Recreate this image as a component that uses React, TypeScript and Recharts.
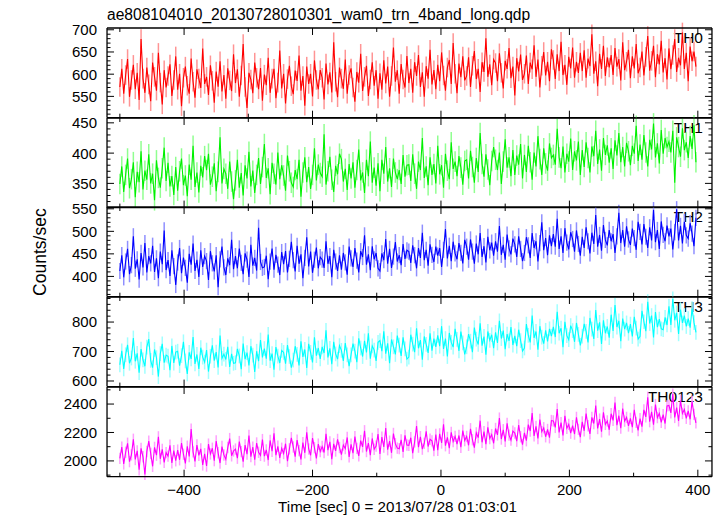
import React from 'react';
import { LineChart, Line, XAxis, YAxis, ErrorBar } from 'recharts';

// ---- light-curve bins (3 s bins starting at t = -500 s) ----
const TIME_START = -500;
const TIME_BIN = 3;

const TH0 = [
  571, 612, 556, 598, 634, 549, 587, 621, 566, 603, 542, 679, 590, 558, 615,
  577, 539, 626, 594, 563, 648, 581, 532, 609, 570, 596, 622, 551, 587, 640,
  565, 601, 528, 592, 617, 574, 556, 635, 583, 547, 611, 590, 569, 658, 578,
  594, 553, 620, 585, 536, 606, 572, 629, 561, 598, 545, 613, 586, 562, 645,
  580, 611, 549, 597, 668, 571, 524, 603, 588, 557, 626, 592, 566, 614, 540,
  599, 575, 637, 558, 590, 612, 546, 581, 653, 568, 601, 534, 589, 619, 573,
  555, 608, 585, 642, 563, 596, 529, 617, 578, 601, 550, 631, 587, 566, 609,
  592, 543, 624, 577, 604, 559, 672, 583, 548, 615, 590, 567, 633, 556, 598,
  613, 570, 538, 605, 581, 646, 562, 594, 619, 551, 588, 627, 574, 609, 545,
  602, 565, 631, 579, 617, 549, 596, 660, 583, 609, 556, 623, 588, 570, 641,
  580, 612, 558, 627, 596, 643, 571, 604, 549, 618, 590, 655, 577, 609, 566,
  621, 584, 649, 597, 563, 615, 632, 578, 670, 601, 557, 624, 593, 640, 586,
  596, 638, 571, 619, 652, 589, 612, 560, 627, 605, 681, 594, 622, 575, 633,
  625, 584, 647, 603, 568, 630, 612, 659, 591, 617, 552, 636, 606, 644, 587,
  601, 642, 578, 626, 611, 665, 594, 633, 570, 619, 650, 597, 628, 584, 656,
  632, 589, 645, 607, 673, 598, 621, 576, 639, 613, 660, 592, 628, 603, 648,
  607, 654, 592, 635, 618, 690, 601, 629, 573, 646, 612, 664, 596, 638, 615,
  643, 598, 659, 617, 634, 586, 672, 609, 628, 655, 591, 640, 613, 668, 602,
  615, 651, 597, 639, 686, 608, 630, 664, 593, 645, 622, 675, 604, 636, 588,
  658, 611, 643, 679, 605, 637, 620, 694, 612, 648, 584, 662, 629, 651, 617,
];

const TH1 = [
  349, 378, 336, 364, 391, 342, 357, 385, 327, 369, 352, 403, 340, 371, 356,
  398, 350, 366, 322, 388, 359, 343, 375, 409, 354, 384, 345, 362, 331, 377,
  338, 370, 391, 347, 363, 329, 381, 356, 412, 344, 368, 335, 379, 360, 395,
  372, 399, 348, 361, 383, 337, 369, 426, 350, 374, 366, 341, 386, 353, 324,
  355, 389, 343, 367, 330, 380, 358, 402, 345, 371, 334, 364, 392, 349, 377,
  415, 359, 375, 332, 384, 366, 348, 401, 357, 380, 363, 338, 396, 370, 351,
  344, 372, 357, 389, 328, 368, 393, 352, 377, 341, 364, 408, 355, 381, 367,
  361, 431, 348, 370, 394, 356, 336, 379, 365, 399, 390, 353, 374, 339, 382,
  358, 385, 343, 372, 406, 355, 368, 334, 389, 362, 419, 351, 376, 346, 383,
  337, 389, 366, 410, 353, 375, 344, 391, 368, 357, 372, 349, 397, 361, 380,
  381, 354, 398, 366, 341, 386, 372, 425, 359, 378, 347, 393, 364, 382, 350,
  412, 365, 380, 343, 399, 371, 357, 418, 374, 386, 362, 395, 376, 348, 387,
  389, 358, 404, 377, 351, 392, 369, 433, 382, 361, 398, 373, 347, 387, 410,
  389, 372, 401, 349, 386, 423, 376, 393, 362, 405, 364, 396, 381, 415, 358,
  397, 369, 412, 385, 356, 401, 378, 428, 390, 364, 408, 383, 371, 416, 392,
  397, 381, 440, 393, 375, 411, 368, 399, 386, 424, 372, 403, 388, 419, 364,
  405, 377, 418, 392, 368, 411, 395, 437, 382, 406, 371, 425, 397, 413, 384,
  408, 374, 421, 396, 433, 385, 410, 378, 417, 403, 380, 412, 399, 445, 387,
  414, 389, 430, 401, 378, 422, 406, 449, 393, 416, 383, 438, 399, 425, 410,
  419, 401, 437, 351, 426, 410, 394, 441, 405, 418, 392, 428, 407, 446, 385,
];

const TH2 = [
  412, 447, 398, 433, 461, 405, 425, 489, 417, 438, 393, 452, 420, 474, 409,
  445, 429, 468, 410, 440, 396, 455, 427, 502, 414, 436, 401, 458, 423, 381,
  431, 463, 407, 442, 419, 386, 450, 426, 473, 412, 437, 399, 458, 421, 445,
  434, 392, 456, 429, 411, 447, 376, 438, 466, 420, 403, 440, 425, 481, 416,
  445, 418, 462, 430, 405, 451, 437, 399, 470, 424, 441, 413, 508, 432, 419,
  421, 446, 394, 433, 462, 415, 448, 426, 403, 454, 427, 456, 409, 439, 477,
  436, 411, 468, 428, 449, 396, 441, 487, 422, 455, 408, 437, 464, 418, 443,
  437, 419, 478, 428, 445, 398, 459, 433, 412, 447, 415, 452, 431, 404, 466,
  440, 421, 463, 435, 409, 456, 443, 491, 426, 449, 414, 467, 438, 452, 418,
  412, 451, 436, 483, 428, 461, 419, 444, 476, 433, 447, 425, 472, 439, 458,
  455, 430, 469, 447, 418, 463, 441, 497, 436, 459, 424, 471, 448, 432, 466,
  446, 463, 421, 459, 505, 440, 468, 434, 477, 451, 438, 474, 452, 429, 481,
  466, 437, 482, 455, 428, 473, 449, 496, 443, 467, 431, 488, 458, 475, 446,
  478, 455, 512, 448, 470, 437, 493, 462, 449, 484, 471, 443, 489, 461, 434,
  452, 487, 469, 441, 496, 463, 478, 433, 474, 520, 458, 485, 447, 491, 467,
  494, 466, 528, 461, 489, 452, 507, 475, 460, 498, 483, 455, 502, 472, 446,
  488, 463, 509, 478, 451, 497, 472, 536, 466, 492, 457, 514, 481, 469, 503,
  478, 494, 452, 489, 541, 474, 503, 466, 511, 482, 470, 506, 485, 459, 521,
  499, 471, 516, 488, 463, 509, 480, 547, 476, 503, 461, 522, 492, 478, 513,
  489, 506, 460, 498, 549, 480, 512, 473, 521, 491, 484, 518, 495, 467, 530,
];

const TH3 = [
  655, 702, 641, 689, 723, 660, 678, 746, 667, 694, 628, 708, 672, 650, 715,
  742, 670, 645, 707, 679, 615, 693, 726, 662, 688, 684, 637, 719, 661, 698,
  701, 652, 686, 733, 668, 624, 697, 675, 749, 658, 690, 641, 713, 681, 664,
  705, 632, 684, 721, 669, 698, 646, 754, 677, 691, 673, 716, 648, 692, 660,
  662, 709, 685, 640, 727, 674, 696, 653, 718, 688, 631, 701, 667, 739, 680,
  710, 676, 758, 669, 693, 638, 715, 684, 661, 704, 697, 659, 722, 683, 645,
  671, 718, 690, 653, 735, 682, 707, 644, 726, 697, 663, 748, 686, 712, 675,
  716, 695, 772, 680, 711, 657, 733, 692, 674, 720, 704, 668, 729, 689, 650,
  689, 727, 701, 664, 745, 712, 683, 736, 697, 762, 676, 719, 705, 668, 731,
  737, 701, 769, 693, 728, 660, 741, 716, 690, 754, 722, 685, 748, 709, 674,
  681, 757, 725, 698, 779, 711, 739, 672, 751, 724, 695, 762, 703, 744, 716,
  755, 718, 786, 709, 744, 683, 763, 731, 715, 777, 741, 702, 768, 729, 690,
  716, 759, 735, 698, 781, 742, 724, 796, 720, 751, 689, 768, 738, 757, 711,
  765, 729, 804, 744, 771, 708, 759, 736, 783, 722, 753, 718, 774, 737, 702,
  712, 793, 755, 731, 822, 746, 768, 706, 786, 749, 727, 772, 734, 777, 752,
  784, 749, 835, 762, 779, 715, 801, 754, 740, 788, 771, 733, 797, 758, 721,
  752, 794, 768, 731, 814, 776, 743, 841, 771, 799, 726, 806, 762, 785, 747,
  825, 770, 858, 783, 804, 735, 812, 776, 797, 762, 793, 751, 818, 779, 742,
  752, 838, 801, 769, 869, 795, 822, 748, 834, 783, 810, 777, 774, 816, 790,
  853, 790, 879, 806, 831, 760, 842, 797, 822, 785, 812, 781, 846, 798, 765,
];

const TH0123 = [
  2018, 2097, 1979, 2061, 2124, 1995, 2043, 2152, 2010, 2071, 1938, 2088, 2029, 1905, 2066,
  2139, 2053, 1962, 2095, 2040, 2169, 2015, 2081, 1990, 2058, 2034, 2110, 1986, 2072, 2001,
  2076, 2008, 2125, 2047, 1983, 2103, 2031, 2224, 2064, 1997, 2112, 2039, 2085, 1972, 2050,
  1964, 2118, 2049, 2089, 2002, 2140, 2057, 1985, 2101, 2042, 2011, 2094, 2157, 2036, 2070,
  2083, 2019, 2136, 2065, 1994, 2112, 2048, 2179, 2030, 2097, 2008, 2126, 2061, 2039, 2150,
  2034, 2077, 2006, 2144, 2068, 2195, 2041, 2103, 2022, 2089, 2052, 2121, 1998, 2085, 2163,
  2098, 2030, 2146, 2072, 2011, 2129, 2057, 2201, 2084, 2040, 2160, 2093, 2017, 2118, 2066,
  2101, 2059, 2190, 2076, 2134, 2013, 2120, 2070, 2151, 2094, 2045, 2112, 2087, 2165, 2028,
  2117, 2054, 2171, 2088, 2035, 2143, 2099, 2212, 2066, 2126, 2041, 2158, 2082, 2104, 2189,
  2049, 2167, 2098, 2231, 2079, 2139, 2057, 2193, 2121, 2090, 2086, 2148, 2063, 2180, 2112,
  2109, 2163, 2055, 2134, 2245, 2097, 2170, 2083, 2124, 2208, 2101, 2152, 2141, 2072, 2186,
  2075, 2190, 2126, 2258, 2107, 2165, 2089, 2201, 2136, 2173, 2118, 2179, 2096, 2214, 2143,
  2172, 2110, 2226, 2149, 2093, 2197, 2164, 2283, 2131, 2206, 2118, 2237, 2158, 2185, 2124,
  2228, 2183, 2301, 2154, 2219, 2137, 2264, 2181, 2146, 2210, 2196, 2139, 2252, 2170, 2115,
  2197, 2142, 2255, 2210, 2336, 2176, 2243, 2158, 2291, 2206, 2233, 2170, 2221, 2163, 2284,
  2281, 2236, 2365, 2201, 2269, 2180, 2318, 2230, 2257, 2195, 2248, 2189, 2306, 2222, 2167,
  2275, 2212, 2333, 2247, 2190, 2306, 2263, 2389, 2228, 2294, 2205, 2342, 2257, 2281, 2219,
  2332, 2285, 2411, 2252, 2318, 2231, 2369, 2280, 2306, 2246, 2299, 2238, 2360, 2271, 2214,
  2297, 2241, 2359, 2310, 2447, 2276, 2345, 2255, 2396, 2305, 2334, 2271, 2326, 2263, 2387,
  2390, 2338, 2470, 2306, 2375, 2282, 2425, 2334, 2362, 2300, 2352, 2293, 2418, 2327, 2268,
];

// typical 1-sigma error of a bin, per band
const ERR_TH0 = 22;
const ERR_TH1 = 17;
const ERR_TH2 = 18;
const ERR_TH3 = 25;
const ERR_TH0123 = 40;

// ---- tick labels ----
const X_MAJOR = [-400, -200, 0, 200, 400];
const X_TICKS = [-500, -400, -300, -200, -100, 0, 100, 200, 300, 400];

const TH0_MAJOR = [550, 600, 650, 700];
const TH0_TICKS = [510, 520, 530, 540, 550, 560, 570, 580, 590, 600, 610, 620, 630, 640, 650, 660, 670, 680, 690, 700];
const TH1_MAJOR = [350, 400, 450];
const TH1_TICKS = [310, 320, 330, 340, 350, 360, 370, 380, 390, 400, 410, 420, 430, 440, 450];
const TH2_MAJOR = [400, 450, 500, 550];
const TH2_TICKS = [360, 370, 380, 390, 400, 410, 420, 430, 440, 450, 460, 470, 480, 490, 500, 510, 520, 530, 540, 550];
const TH3_MAJOR = [600, 700, 800];
const TH3_TICKS = [600, 620, 640, 660, 680, 700, 720, 740, 760, 780, 800, 820, 840, 860, 880];
const TH0123_MAJOR = [2000, 2200, 2400];
const TH0123_TICKS = [1900, 2000, 2100, 2200, 2300, 2400, 2500];

const TITLE = 'ae808104010_20130728010301_wam0_trn_4band_long.qdp';
const Y_TITLE = 'Counts/sec';
const X_TITLE = 'Time [sec] 0 = 2013/07/28 01:03:01';

// ---- layout / style ----
const W = 724;
const H = 516;
const PLOT_LEFT = 107;
const PLOT_RIGHT = 712;
const PANEL_EDGES = [28, 117.7, 207.3, 297, 386.6, 476.3];
const PAD = 20;
const PAD_LAST = 30;
const FONT = '"Liberation Sans", Arial, Helvetica, sans-serif';
const X_DOMAIN: [number, number] = [-520, 422];

const PANELS = [
  { name: 'TH0', values: TH0, err: ERR_TH0, color: '#ff0000', errColor: '#ff9494', domain: [502, 704], major: TH0_MAJOR, ticks: TH0_TICKS },
  { name: 'TH1', values: TH1, err: ERR_TH1, color: '#00f000', errColor: '#90ff90', domain: [310, 458], major: TH1_MAJOR, ticks: TH1_TICKS },
  { name: 'TH2', values: TH2, err: ERR_TH2, color: '#0000ff', errColor: '#8f8fff', domain: [355, 554], major: TH2_MAJOR, ticks: TH2_TICKS },
  { name: 'TH3', values: TH3, err: ERR_TH3, color: '#00ffff', errColor: '#a0ffff', domain: [581, 885], major: TH3_MAJOR, ticks: TH3_TICKS },
  { name: 'TH0123', values: TH0123, err: ERR_TH0123, color: '#ff00ff', errColor: '#ffa0ff', domain: [1889, 2520], major: TH0123_MAJOR, ticks: TH0123_TICKS },
];

const fmt = (v: number) => (v < 0 ? '\u2212' + Math.abs(v) : String(v));

function makeYTick(side: 'left' | 'right', major: number[]) {
  return (props: any) => {
    const { x, y, payload } = props;
    const isMajor = major.includes(payload.value);
    const len = isMajor ? 7 : 3.5;
    const dir = side === 'left' ? 1 : -1;
    return (
      <g>
        <line x1={x} x2={x + dir * len} y1={y} y2={y} stroke="#000" strokeWidth={1} />
        {side === 'left' && isMajor && (
          <text x={x - 10} y={y} dy="0.36em" textAnchor="end" fontSize={15} fontFamily={FONT} fill="#000">
            {fmt(payload.value)}
          </text>
        )}
      </g>
    );
  };
}

function makeXTick(side: 'top' | 'bottom', showLabels: boolean) {
  return (props: any) => {
    const { x, y, payload } = props;
    const isMajor = X_MAJOR.includes(payload.value);
    const len = isMajor ? 7 : 4;
    const dir = side === 'bottom' ? -1 : 1;
    return (
      <g>
        <line x1={x} x2={x} y1={y} y2={y + dir * len} stroke="#000" strokeWidth={1} />
        {showLabels && side === 'bottom' && isMajor && (
          <text x={x} y={y + 18} textAnchor="middle" fontSize={15} fontFamily={FONT} fill="#000">
            {fmt(payload.value)}
          </text>
        )}
      </g>
    );
  };
}

function Panel({ idx }: { idx: number }) {
  const p = PANELS[idx];
  const top = PANEL_EDGES[idx];
  const ph = PANEL_EDGES[idx + 1] - top;
  const data = p.values.map((v, i) => ({ t: TIME_START + i * TIME_BIN, v, e: p.err }));
  const isLast = idx === PANELS.length - 1;
  const padB = isLast ? PAD_LAST : PAD;
  const axisLine = { stroke: '#000', strokeWidth: 1.3 };
  return (
    <div style={{ position: 'absolute', left: 0, top: top - PAD, width: W, height: ph + PAD + padB }}>
      <LineChart
        width={W}
        height={ph + PAD + padB}
        data={data}
        margin={{ top: 0, bottom: 0, left: 0, right: 0 }}
      >
        <XAxis
          xAxisId="b"
          dataKey="t"
          type="number"
          domain={X_DOMAIN}
          allowDataOverflow
          ticks={X_TICKS}
          interval={0}
          orientation="bottom"
          height={padB}
          tickSize={0}
          tickMargin={0}
          axisLine={axisLine}
          tickLine={false}
          tick={makeXTick('bottom', isLast)}
        />
        <XAxis
          xAxisId="t"
          dataKey="t"
          type="number"
          domain={X_DOMAIN}
          allowDataOverflow
          ticks={X_TICKS}
          interval={0}
          orientation="top"
          height={PAD}
          tickSize={0}
          tickMargin={0}
          axisLine={axisLine}
          tickLine={false}
          tick={makeXTick('top', false)}
        />
        <YAxis
          yAxisId="l"
          type="number"
          domain={p.domain}
          allowDataOverflow
          ticks={p.ticks}
          interval={0}
          orientation="left"
          width={PLOT_LEFT}
          tickSize={0}
          tickMargin={0}
          axisLine={axisLine}
          tickLine={false}
          tick={makeYTick('left', p.major)}
        />
        <YAxis
          yAxisId="r"
          type="number"
          domain={p.domain}
          allowDataOverflow
          ticks={p.ticks}
          interval={0}
          orientation="right"
          width={W - PLOT_RIGHT}
          tickSize={0}
          tickMargin={0}
          axisLine={axisLine}
          tickLine={false}
          tick={makeYTick('right', p.major)}
        />
        <Line
          xAxisId="b"
          yAxisId="l"
          dataKey="v"
          stroke="none"
          dot={false}
          activeDot={false}
          isAnimationActive={false}
        >
          <ErrorBar dataKey="e" width={0} stroke={p.errColor} strokeWidth={1.5} direction="y" isAnimationActive={false} />
        </Line>
        <Line
          xAxisId="b"
          yAxisId="l"
          dataKey="v"
          stroke={p.color}
          strokeWidth={1.1}
          dot={false}
          activeDot={false}
          isAnimationActive={false}
        />
      </LineChart>
    </div>
  );
}

export default function App() {
  const plotMidY = (PANEL_EDGES[0] + PANEL_EDGES[PANEL_EDGES.length - 1]) / 2;
  const plotMidX = (PLOT_LEFT + PLOT_RIGHT) / 2;
  return (
    <div style={{ position: 'absolute', left: 0, top: 0, width: W, height: H, background: '#fff', overflow: 'hidden' }}>
      <svg width={W} height={H} style={{ position: 'absolute', left: 0, top: 0 }}>
        <text x={PLOT_LEFT} y={20} fontSize={15.6} fontFamily={FONT} fill="#000">{TITLE}</text>
        <text
          x={0}
          y={0}
          transform={`translate(46 ${plotMidY}) rotate(-90)`}
          textAnchor="middle"
          fontSize={17.5}
          fontFamily={FONT}
          fill="#000"
        >
          {Y_TITLE}
        </text>
        <text x={plotMidX - 12} y={512} textAnchor="middle" fontSize={15.2} fontFamily={FONT} fill="#000">{X_TITLE}</text>
        {PANELS.map((p, i) => (
          <text key={p.name} x={703} y={PANEL_EDGES[i] + 15} textAnchor="end" fontSize={15.5} fontFamily={FONT} fill="#000">
            {p.name}
          </text>
        ))}
      </svg>
      {PANELS.map((p, i) => (
        <Panel key={p.name} idx={i} />
      ))}
    </div>
  );
}
